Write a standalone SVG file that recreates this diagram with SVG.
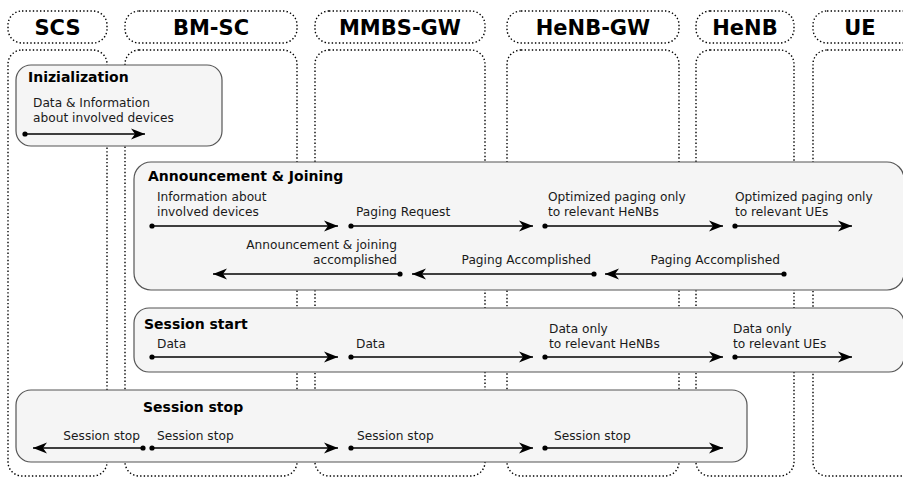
<svg xmlns="http://www.w3.org/2000/svg" width="903" height="478" viewBox="0 0 903 478">
  <style>
    .dot { fill: none; stroke: #000; stroke-width: 1.4; stroke-dasharray: 1.4 2.2; }
    .head { font-family: "DejaVu Sans", sans-serif; font-weight: bold; font-size: 21px; text-anchor: middle; fill: #000; }
    .sec { fill: #f5f5f5; stroke: #555; stroke-width: 1.2; }
    .title { font-family: "DejaVu Sans", sans-serif; font-weight: bold; font-size: 14px; fill: #000; }
    .lbl { font-family: "DejaVu Sans", sans-serif; font-size: 12.2px; fill: #1a1a1a; }
    .end { text-anchor: end; }
    .msg { fill: none; stroke: #000; stroke-width: 1.3; marker-start: url(#tail); marker-end: url(#tip); }
  </style>
  <defs>
    <marker id="tip" viewBox="-15 -6 16 12" refX="0" refY="0" markerWidth="16" markerHeight="12" markerUnits="userSpaceOnUse" orient="auto">
      <path d="M0,0 L-14,-5.5 L-10,0 L-14,5.5 Z" fill="#000"/>
    </marker>
    <marker id="tail" viewBox="-3 -3 6 6" refX="0" refY="0" markerWidth="6" markerHeight="6" markerUnits="userSpaceOnUse" orient="auto">
      <circle cx="0" cy="0" r="2.6" fill="#000"/>
    </marker>
  </defs>

  <!-- entity lanes -->
  <g id="scs">
    <rect class="dot" x="8" y="11" width="99" height="32" rx="14"/>
    <rect class="dot" x="8" y="50" width="99" height="426" rx="14"/>
    <text class="head" x="57.5" y="35">SCS</text>
  </g>
  <g id="bmsc">
    <rect class="dot" x="125" y="11" width="172" height="32" rx="14"/>
    <rect class="dot" x="125" y="50" width="172" height="426" rx="14"/>
    <text class="head" x="211" y="35">BM-SC</text>
  </g>
  <g id="mmbsgw">
    <rect class="dot" x="315" y="11" width="170" height="32" rx="14"/>
    <rect class="dot" x="315" y="50" width="170" height="426" rx="14"/>
    <text class="head" x="400" y="35">MMBS-GW</text>
  </g>
  <g id="henbgw">
    <rect class="dot" x="507" y="11" width="172" height="32" rx="14"/>
    <rect class="dot" x="507" y="50" width="172" height="426" rx="14"/>
    <text class="head" x="593" y="35">HeNB-GW</text>
  </g>
  <g id="henb">
    <rect class="dot" x="696" y="11" width="98" height="32" rx="14"/>
    <rect class="dot" x="696" y="50" width="98" height="426" rx="14"/>
    <text class="head" x="745" y="35">HeNB</text>
  </g>
  <g id="ue">
    <rect class="dot" x="813" y="11" width="120" height="32" rx="14"/>
    <rect class="dot" x="813" y="50" width="120" height="426" rx="14"/>
    <text class="head" x="860" y="35">UE</text>
  </g>

  <!-- phases -->
  <g id="init">
    <rect class="sec" x="16" y="65" width="206" height="81" rx="15"/>
    <text class="title" x="28" y="82">Inizialization</text>
  </g>
  <g id="announce">
    <rect class="sec" x="134" y="162" width="770" height="128" rx="17"/>
    <text class="title" x="148" y="181">Announcement &amp; Joining</text>
  </g>
  <g id="start">
    <rect class="sec" x="134" y="308" width="770" height="64" rx="15"/>
    <text class="title" x="144" y="329">Session start</text>
  </g>
  <g id="stop">
    <rect class="sec" x="16" y="390" width="731" height="72" rx="15"/>
    <text class="title" x="143" y="412">Session stop</text>
  </g>

  <!-- messages -->
  <g id="connectors">
    <path class="msg" d="M25,134 H145"/>
    <path class="msg" d="M152,226 H338"/>
    <path class="msg" d="M351,226 H533"/>
    <path class="msg" d="M545,226 H723"/>
    <path class="msg" d="M735,226 H852"/>
    <path class="msg" d="M784,274 H605"/>
    <path class="msg" d="M594,274 H412"/>
    <path class="msg" d="M400,274 H213"/>
    <path class="msg" d="M152,357 H338"/>
    <path class="msg" d="M351,357 H533"/>
    <path class="msg" d="M545,357 H723"/>
    <path class="msg" d="M735,357 H852"/>
    <path class="msg" d="M143,448 H33"/>
    <path class="msg" d="M152,448 H338"/>
    <path class="msg" d="M351,448 H533"/>
    <path class="msg" d="M545,448 H723"/>
  </g>

  <!-- message labels -->
  <g id="labels">
    <text class="lbl" x="33" y="107">Data &amp; Information</text>
    <text class="lbl" x="33" y="122">about involved devices</text>

    <text class="lbl" x="157" y="201">Information about</text>
    <text class="lbl" x="157" y="216">involved devices</text>
    <text class="lbl" x="356" y="216">Paging Request</text>
    <text class="lbl" x="548" y="201">Optimized paging only</text>
    <text class="lbl" x="548" y="216">to relevant HeNBs</text>
    <text class="lbl" x="735" y="201">Optimized paging only</text>
    <text class="lbl" x="735" y="216">to relevant UEs</text>
    <text class="lbl end" x="780" y="264">Paging Accomplished</text>
    <text class="lbl end" x="591" y="264">Paging Accomplished</text>
    <text class="lbl end" x="397" y="249">Announcement &amp; joining</text>
    <text class="lbl end" x="397" y="264">accomplished</text>

    <text class="lbl" x="157" y="348">Data</text>
    <text class="lbl" x="356" y="348">Data</text>
    <text class="lbl" x="549" y="333">Data only</text>
    <text class="lbl" x="549" y="348">to relevant HeNBs</text>
    <text class="lbl" x="733" y="333">Data only</text>
    <text class="lbl" x="733" y="348">to relevant UEs</text>

    <text class="lbl end" x="140" y="440">Session stop</text>
    <text class="lbl" x="157" y="440">Session stop</text>
    <text class="lbl" x="357" y="440">Session stop</text>
    <text class="lbl" x="554" y="440">Session stop</text>
  </g>
</svg>
